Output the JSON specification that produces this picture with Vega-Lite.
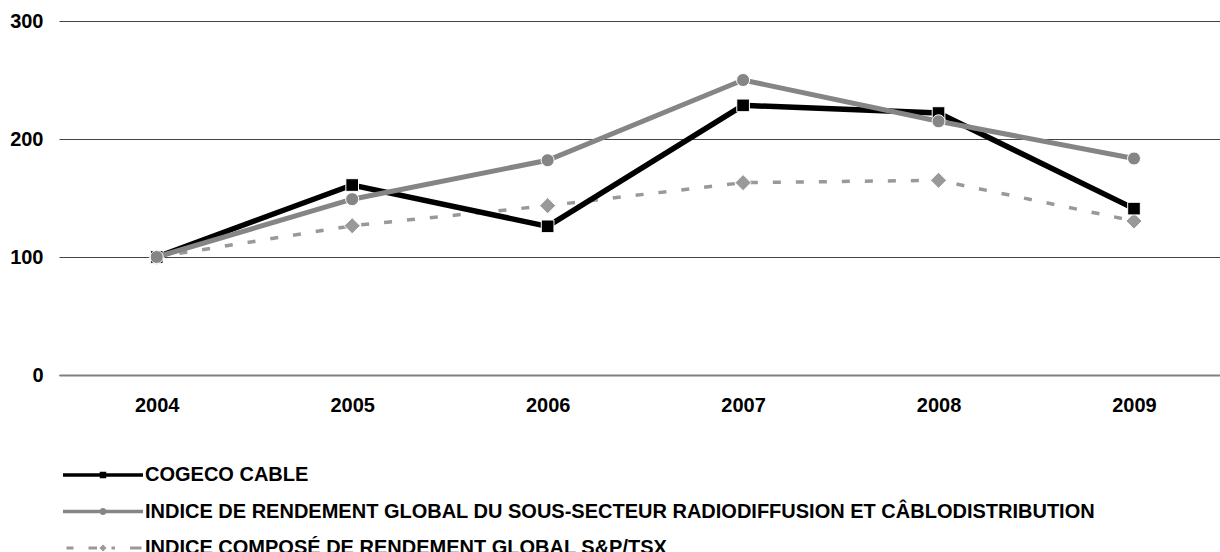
{
  "$schema": "https://vega.github.io/schema/vega-lite/v6.json",
  "width": 1161,
  "height": 354,
  "autosize": {"type": "none"},
  "padding": {"left": 59, "top": 21, "right": 0, "bottom": 177},
  "background": "white",
  "config": {
    "font": "Liberation Sans",
    "view": {"stroke": null},
    "axis": {"labelFont": "Liberation Sans", "labelFontWeight": "bold", "labelFontSize": 20, "labelColor": "#000"}
  },
  "data": {
    "values": [
      {"year": 2004, "series": "COGECO CABLE", "value": 100},
      {"year": 2005, "series": "COGECO CABLE", "value": 161},
      {"year": 2006, "series": "COGECO CABLE", "value": 126},
      {"year": 2007, "series": "COGECO CABLE", "value": 228.5},
      {"year": 2008, "series": "COGECO CABLE", "value": 222},
      {"year": 2009, "series": "COGECO CABLE", "value": 141},
      {"year": 2004, "series": "INDICE DE RENDEMENT GLOBAL DU SOUS-SECTEUR RADIODIFFUSION ET CÂBLODISTRIBUTION", "value": 100},
      {"year": 2005, "series": "INDICE DE RENDEMENT GLOBAL DU SOUS-SECTEUR RADIODIFFUSION ET CÂBLODISTRIBUTION", "value": 149},
      {"year": 2006, "series": "INDICE DE RENDEMENT GLOBAL DU SOUS-SECTEUR RADIODIFFUSION ET CÂBLODISTRIBUTION", "value": 182},
      {"year": 2007, "series": "INDICE DE RENDEMENT GLOBAL DU SOUS-SECTEUR RADIODIFFUSION ET CÂBLODISTRIBUTION", "value": 250},
      {"year": 2008, "series": "INDICE DE RENDEMENT GLOBAL DU SOUS-SECTEUR RADIODIFFUSION ET CÂBLODISTRIBUTION", "value": 215},
      {"year": 2009, "series": "INDICE DE RENDEMENT GLOBAL DU SOUS-SECTEUR RADIODIFFUSION ET CÂBLODISTRIBUTION", "value": 183.5},
      {"year": 2004, "series": "INDICE COMPOSÉ DE RENDEMENT GLOBAL S&P/TSX", "value": 100},
      {"year": 2005, "series": "INDICE COMPOSÉ DE RENDEMENT GLOBAL S&P/TSX", "value": 126.5},
      {"year": 2006, "series": "INDICE COMPOSÉ DE RENDEMENT GLOBAL S&P/TSX", "value": 143.5},
      {"year": 2007, "series": "INDICE COMPOSÉ DE RENDEMENT GLOBAL S&P/TSX", "value": 163},
      {"year": 2008, "series": "INDICE COMPOSÉ DE RENDEMENT GLOBAL S&P/TSX", "value": 165},
      {"year": 2009, "series": "INDICE COMPOSÉ DE RENDEMENT GLOBAL S&P/TSX", "value": 130.5}
    ]
  },
  "encoding": {
    "x": {
      "field": "year", "type": "quantitative",
      "scale": {"domain": [2003.5, 2009.44], "nice": false, "zero": false},
      "axis": {"title": null, "values": [2004, 2005, 2006, 2007, 2008, 2009], "format": "d", "grid": false, "ticks": false, "tickSize": 0, "labelPadding": 30, "labelBaseline": "middle", "domainColor": "#808080", "domainWidth": 2, "labelFlush": false}
    },
    "y": {
      "field": "value", "type": "quantitative",
      "scale": {"domain": [0, 300], "nice": false},
      "axis": {"title": null, "values": [0, 100, 200, 300], "domain": false, "ticks": false, "tickSize": 0, "labelPadding": 16, "gridColor": "#444", "gridWidth": 1, "gridOpacity": 1}
    }
  },
  "layer": [
    {
      "transform": [{"filter": "datum.series === 'INDICE COMPOSÉ DE RENDEMENT GLOBAL S&P/TSX'"}],
      "mark": {"type": "line", "color": "#999999", "strokeWidth": 3.5, "strokeDash": [8, 15]},
      "encoding": {"order": {"field": "year", "type": "quantitative"}}
    },
    {
      "transform": [{"filter": "datum.series === 'INDICE COMPOSÉ DE RENDEMENT GLOBAL S&P/TSX'"}],
      "mark": {"type": "point", "shape": "diamond", "filled": true, "opacity": 1, "color": "#999999", "stroke": "white", "strokeWidth": 1, "size": 260}
    },
    {
      "transform": [{"filter": "datum.series === 'COGECO CABLE'"}],
      "mark": {"type": "line", "color": "#000000", "strokeWidth": 5.5},
      "encoding": {"order": {"field": "year", "type": "quantitative"}}
    },
    {
      "transform": [{"filter": "datum.series === 'COGECO CABLE'"}],
      "mark": {"type": "point", "shape": "square", "filled": true, "opacity": 1, "color": "#000000", "stroke": "white", "strokeWidth": 1, "size": 160}
    },
    {
      "transform": [{"filter": "datum.series === 'INDICE DE RENDEMENT GLOBAL DU SOUS-SECTEUR RADIODIFFUSION ET CÂBLODISTRIBUTION'"}],
      "mark": {"type": "line", "color": "#858585", "strokeWidth": 5},
      "encoding": {"order": {"field": "year", "type": "quantitative"}}
    },
    {
      "transform": [{"filter": "datum.series === 'INDICE DE RENDEMENT GLOBAL DU SOUS-SECTEUR RADIODIFFUSION ET CÂBLODISTRIBUTION'"}],
      "mark": {"type": "point", "shape": "circle", "filled": true, "opacity": 1, "color": "#858585", "stroke": "white", "strokeWidth": 1, "size": 170}
    },
    {
      "mark": {"type": "point", "filled": true, "opacity": 0, "size": 100},
      "encoding": {
        "fill": {"field": "series", "type": "nominal",
          "scale": {"domain": ["COGECO CABLE", "INDICE DE RENDEMENT GLOBAL DU SOUS-SECTEUR RADIODIFFUSION ET CÂBLODISTRIBUTION", "INDICE COMPOSÉ DE RENDEMENT GLOBAL S&P/TSX"], "range": ["#000000", "#858585", "#999999"]},
          "legend": {"title": null, "orient": "none", "legendX": 34, "legendY": 444, "padding": 0, "symbolSize": 100, "symbolStrokeWidth": 0, "symbolOffset": 0, "labelOffset": 32, "rowPadding": 16.5, "labelFont": "Liberation Sans", "labelFontSize": 20, "labelFontWeight": "bold", "labelColor": "#000", "labelLimit": 1200, "symbolOpacity": 1,
            "encode": {"symbols": {"update": {"opacity": {"value": 1}, "fillOpacity": {"value": 1}}}}}},
        "shape": {"field": "series", "type": "nominal",
          "scale": {"domain": ["COGECO CABLE", "INDICE DE RENDEMENT GLOBAL DU SOUS-SECTEUR RADIODIFFUSION ET CÂBLODISTRIBUTION", "INDICE COMPOSÉ DE RENDEMENT GLOBAL S&P/TSX"],
            "range": [
              "M-8,-0.33H8V0.33H-8Z M-0.65,-0.65H0.65V0.65H-0.65Z",
              "M-8,-0.33H8V0.33H-8Z M0.7,0 A0.7,0.7 0 1,1 -0.7,0 A0.7,0.7 0 1,1 0.7,0Z",
              "M-7.3,-0.3H-5.9V0.3H-7.3Z M-2.9,-0.3H-1.2V0.3H-2.9Z M0,-0.7L0.7,0L0,0.7L-0.7,0Z M1.7,-0.3H2.4V0.3H1.7Z M5.4,-0.3H7.7V0.3H5.4Z"
            ]},
          "legend": {"title": null, "orient": "none", "legendX": 34, "legendY": 444, "padding": 0, "symbolSize": 100, "symbolStrokeWidth": 0, "symbolOffset": 0, "labelOffset": 32, "rowPadding": 16.5, "labelFont": "Liberation Sans", "labelFontSize": 20, "labelFontWeight": "bold", "labelColor": "#000", "labelLimit": 1200, "symbolOpacity": 1,
            "encode": {"symbols": {"update": {"opacity": {"value": 1}, "fillOpacity": {"value": 1}}}}}}
      }
    }
  ]
}
